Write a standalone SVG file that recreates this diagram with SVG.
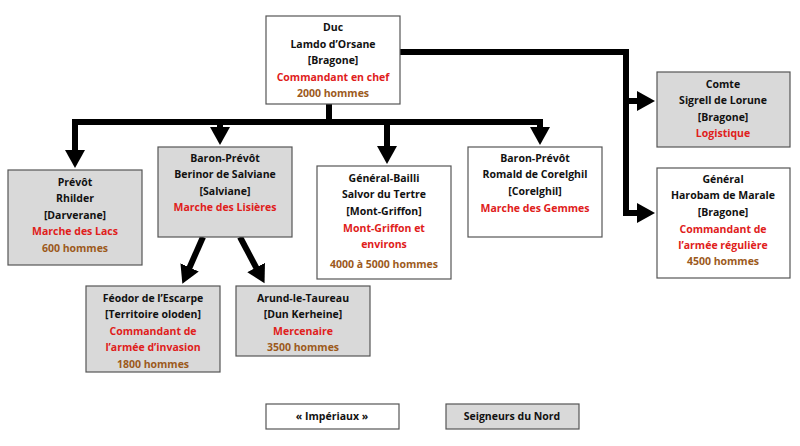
<svg xmlns="http://www.w3.org/2000/svg" width="800" height="446" viewBox="0 0 800 446">
<style>
.b{stroke:#555;stroke-width:1.2}
.w{fill:#fff}.g{fill:#d9d9d9}
text{font-family:"Open Sans","Liberation Sans",sans-serif;font-weight:bold;font-size:10.5px;text-anchor:middle;fill:#111}
.r{fill:#e0201b}.o{fill:#9c5a1c}
.c{stroke:#000;stroke-width:6;fill:none}
</style>
<defs>
<marker id="a" markerUnits="userSpaceOnUse" markerWidth="20" markerHeight="20" refX="4" refY="10" orient="auto" viewBox="0 0 20 20">
<path d="M0,0 L18,10 L0,20 Z" fill="#000"/>
</marker>
</defs>
<g id="connectors">
<path class="c" d="M329,104 V122"/>
<path class="c" d="M72,122 H543"/>
<path class="c" d="M75,122 V154" marker-end="url(#a)"/>
<path class="c" d="M220,122 V131" marker-end="url(#a)"/>
<path class="c" d="M387,122 V150" marker-end="url(#a)"/>
<path class="c" d="M540,122 V131" marker-end="url(#a)"/>
<path class="c" d="M400,52 H626 V213 H641" marker-end="url(#a)"/>
<path class="c" d="M626,101 H641" marker-end="url(#a)"/>
<path class="c" d="M203,237 L188,271" marker-end="url(#a)"/>
<path class="c" d="M240,237 L258,271" marker-end="url(#a)"/>
</g>
<g id="duc"><rect class="b w" x="266" y="16" width="134" height="88"/>
<text x="333" y="31">Duc</text><text x="333" y="48">Lamdo d’Orsane</text><text x="333" y="64">[Bragone]</text><text class="r" x="333" y="81">Commandant en chef</text><text class="o" x="333" y="97">2000 hommes</text></g>
<g id="rhilder"><rect class="b g" x="8" y="170" width="134" height="95"/>
<text x="75" y="186">Prévôt</text><text x="75" y="202">Rhilder</text><text x="75" y="219">[Darverane]</text><text class="r" x="75" y="235">Marche des Lacs</text><text class="o" x="75" y="252">600 hommes</text></g>
<g id="berinor"><rect class="b g" x="158" y="147" width="134" height="90"/>
<text x="225" y="162">Baron-Prévôt</text><text x="225" y="178">Berinor de Salviane</text><text x="225" y="195">[Salviane]</text><text class="r" x="225" y="211">Marche des Lisières</text></g>
<g id="salvor"><rect class="b w" x="317" y="166" width="134" height="113"/>
<text x="384" y="182">Général-Bailli</text><text x="384" y="198">Salvor du Tertre</text><text x="384" y="215">[Mont-Griffon]</text><text class="r" x="384" y="232">Mont-Griffon et</text><text class="r" x="384" y="248">environs</text><text class="o" x="384" y="268">4000 à 5000 hommes</text></g>
<g id="romald"><rect class="b w" x="468" y="147" width="134" height="90"/>
<text x="535" y="162">Baron-Prévôt</text><text x="535" y="178">Romald de Corelghil</text><text x="535" y="195">[Corelghil]</text><text class="r" x="535" y="212">Marche des Gemmes</text></g>
<g id="sigrell"><rect class="b g" x="657" y="72" width="133" height="75"/>
<text x="723" y="88">Comte</text><text x="723" y="104">Sigrell de Lorune</text><text x="723" y="121">[Bragone]</text><text class="r" x="723" y="137">Logistique</text></g>
<g id="harobam"><rect class="b w" x="657" y="168" width="133" height="110"/>
<text x="723" y="183">Général</text><text x="723" y="199">Harobam de Marale</text><text x="723" y="216">[Bragone]</text><text class="r" x="723" y="233">Commandant de</text><text class="r" x="723" y="249">l’armée régulière</text><text class="o" x="723" y="265">4500 hommes</text></g>
<g id="feodor"><rect class="b g" x="86" y="286" width="134" height="86"/>
<text x="153" y="302">Féodor de l’Escarpe</text><text x="153" y="318">[Territoire oloden]</text><text class="r" x="153" y="335">Commandant de</text><text class="r" x="153" y="351">l’armée d’invasion</text><text class="o" x="153" y="368">1800 hommes</text></g>
<g id="arund"><rect class="b g" x="236" y="286" width="134" height="70"/>
<text x="303" y="302">Arund-le-Taureau</text><text x="303" y="318">[Dun Kerheine]</text><text class="r" x="303" y="335">Mercenaire</text><text class="o" x="303" y="351">3500 hommes</text></g>
<g id="legend-imperiaux"><rect class="b w" x="266" y="404" width="133" height="25"/><text x="332" y="420">« Impériaux »</text></g>
<g id="legend-nord"><rect class="b g" x="446" y="404" width="133" height="25"/><text x="512" y="420">Seigneurs du Nord</text></g>
</svg>
